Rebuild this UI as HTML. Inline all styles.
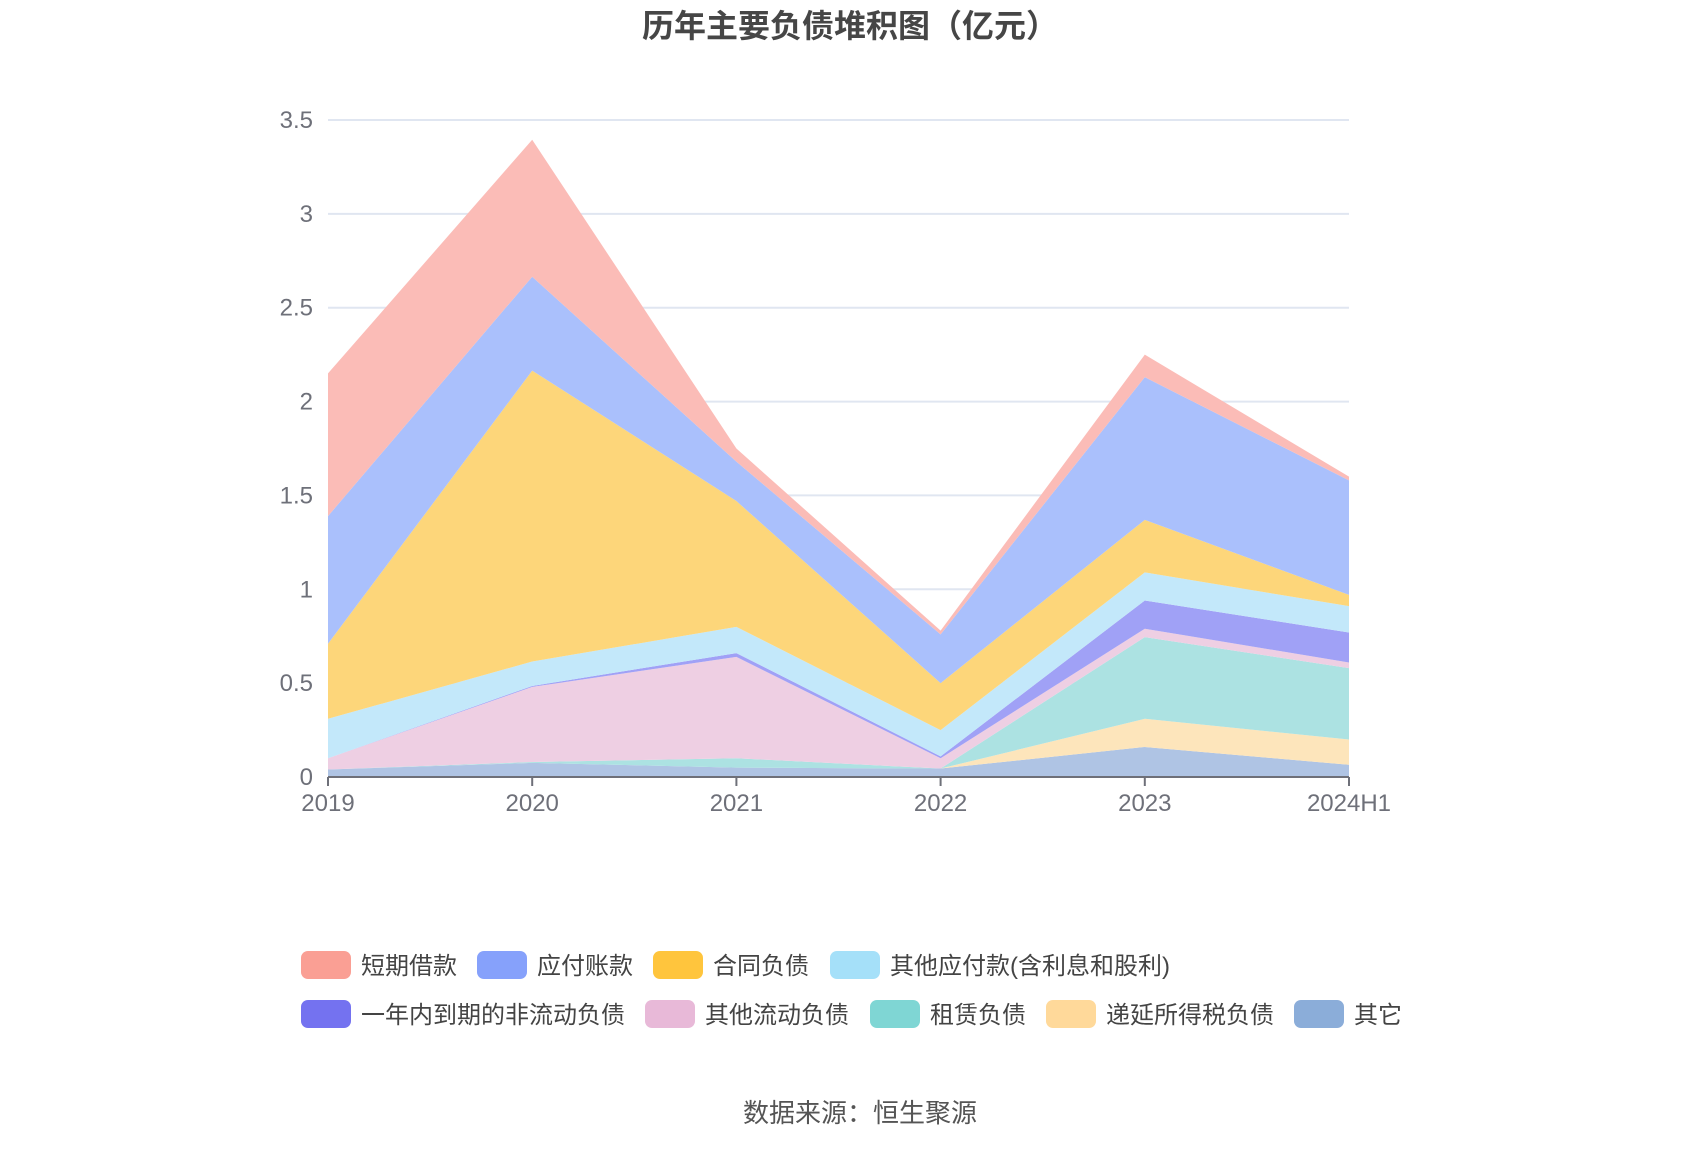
<!DOCTYPE html>
<html><head><meta charset="utf-8"><style>
body{margin:0;background:#fff;width:1700px;height:1150px;overflow:hidden;font-family:"Liberation Sans","Noto Sans CJK SC",sans-serif}
</style></head><body>
<svg id="chart" width="1700" height="1150" xmlns="http://www.w3.org/2000/svg" style="font-family:'Liberation Sans','Noto Sans CJK SC',sans-serif">
<text x="850" y="37" text-anchor="middle" font-size="32" font-weight="bold" fill="#464646">历年主要负债堆积图（亿元）</text>
<g id="grid"></g><g id="areas"></g><g id="axes"></g><g id="legend"></g>
<text x="860" y="1122" text-anchor="middle" font-size="26" fill="#555">数据来源：恒生聚源</text>
</svg>
<script>
const categories=["2019","2020","2021","2022","2023","2024H1"];
const seriesNames=["其它","递延所得税负债","租赁负债","其他流动负债","一年内到期的非流动负债","其他应付款(含利息和股利)","合同负债","应付账款","短期借款"];
const sOther=[0.04,0.075,0.05,0.045,0.16,0.065];
const sDeferred=[0,0,0,0,0.15,0.135];
const sLease=[0,0.005,0.05,0,0.435,0.38];
const sOtherCurrent=[0.06,0.40,0.54,0.055,0.045,0.03];
const sDueOneYear=[0,0.005,0.02,0.01,0.15,0.16];
const sOtherPayable=[0.21,0.13,0.14,0.14,0.15,0.14];
const sContract=[0.40,1.55,0.67,0.25,0.28,0.06];
const sPayable=[0.68,0.50,0.21,0.26,0.76,0.61];
const sShortLoan=[0.76,0.73,0.07,0.02,0.12,0.02];
const yTicks=[0,0.5,1,1.5,2,2.5,3,3.5];
const yTickLabels=["0","0.5","1","1.5","2","2.5","3","3.5"];
const series=[sOther,sDeferred,sLease,sOtherCurrent,sDueOneYear,sOtherPayable,sContract,sPayable,sShortLoan];
const fills=["#afc4e4","#fde5bb","#ace2e2","#eecfe3","#a0a1f6","#c3e8fa","#fdd67a","#aac0fc","#fbbcb7"];
const legendColors=["#8badd9","#ffd99a","#7fd6d4","#e8b9d8","#7472f0","#a5e0f9","#ffc53d","#86a1fb","#fa9f94"];
const slugs=["other","deferred-tax","lease","other-current","due-within-year","other-payable","contract","payable","short-loan"];
const X0=328,X1=1349,Y0=777,Y35=120;
const xs=i=>X0+(X1-X0)*i/(categories.length-1);
const ys=v=>Y0-(Y0-Y35)*v/3.5;
const NS="http://www.w3.org/2000/svg";
const mk=(t,a,p)=>{const e=document.createElementNS(NS,t);for(const k in a)e.setAttribute(k,a[k]);p.appendChild(e);return e;};
const grid=document.getElementById('grid'),areas=document.getElementById('areas'),axes=document.getElementById('axes'),legend=document.getElementById('legend');
yTicks.forEach((v,i)=>{
  if(v>0){const l=mk('line',{x1:X0,x2:X1,y1:ys(v),y2:ys(v),stroke:'#e0e6f1','stroke-width':2},grid);
  
  }
  const t=mk('text',{x:313,y:ys(v)+8,'text-anchor':'end','font-size':24,fill:'#6e7079'},axes);
  t.textContent=yTickLabels[i];
  
  
});
let base=categories.map(()=>0);
series.forEach((s,k)=>{
  const top=base.map((b,i)=>b+s[i]);
  let d='M'+top.map((v,i)=>xs(i)+','+ys(v)).join('L');
  for(let i=categories.length-1;i>=0;i--)d+='L'+xs(i)+','+ys(base[i]);
  const p=mk('path',{d:d+'Z',fill:fills[k]},areas);
  
  
  base=top;
});
const ax=mk('line',{x1:X0,x2:X1,y1:Y0,y2:Y0,stroke:'#6e7079','stroke-width':2},axes);


categories.forEach((c,i)=>{
  const tk=mk('line',{x1:xs(i),x2:xs(i),y1:Y0,y2:Y0+9,stroke:'#6e7079','stroke-width':2},axes);
  
  
  const t=mk('text',{x:xs(i),y:811,'text-anchor':'middle','font-size':24,fill:'#6e7079'},axes);
  t.textContent=c;
  
  
});
const legendOrder=[8,7,6,5,4,3,2,1,0];
const lpos=[[301,965],[477,965],[653,965],[830,965],[301,1014],[645,1014],[870,1014],[1046,1014],[1294,1014]];
legendOrder.forEach((k,j)=>{
  const [lx,ly]=lpos[j];
  const g=mk('g',{},legend);
  
  
  mk('rect',{x:lx,y:ly-14,width:50,height:28,rx:7,fill:legendColors[k]},g);
  const t=mk('text',{x:lx+60,y:ly+9,'font-size':24,fill:'#444'},g);
  t.textContent=seriesNames[k];
});
</script>
</body></html>
